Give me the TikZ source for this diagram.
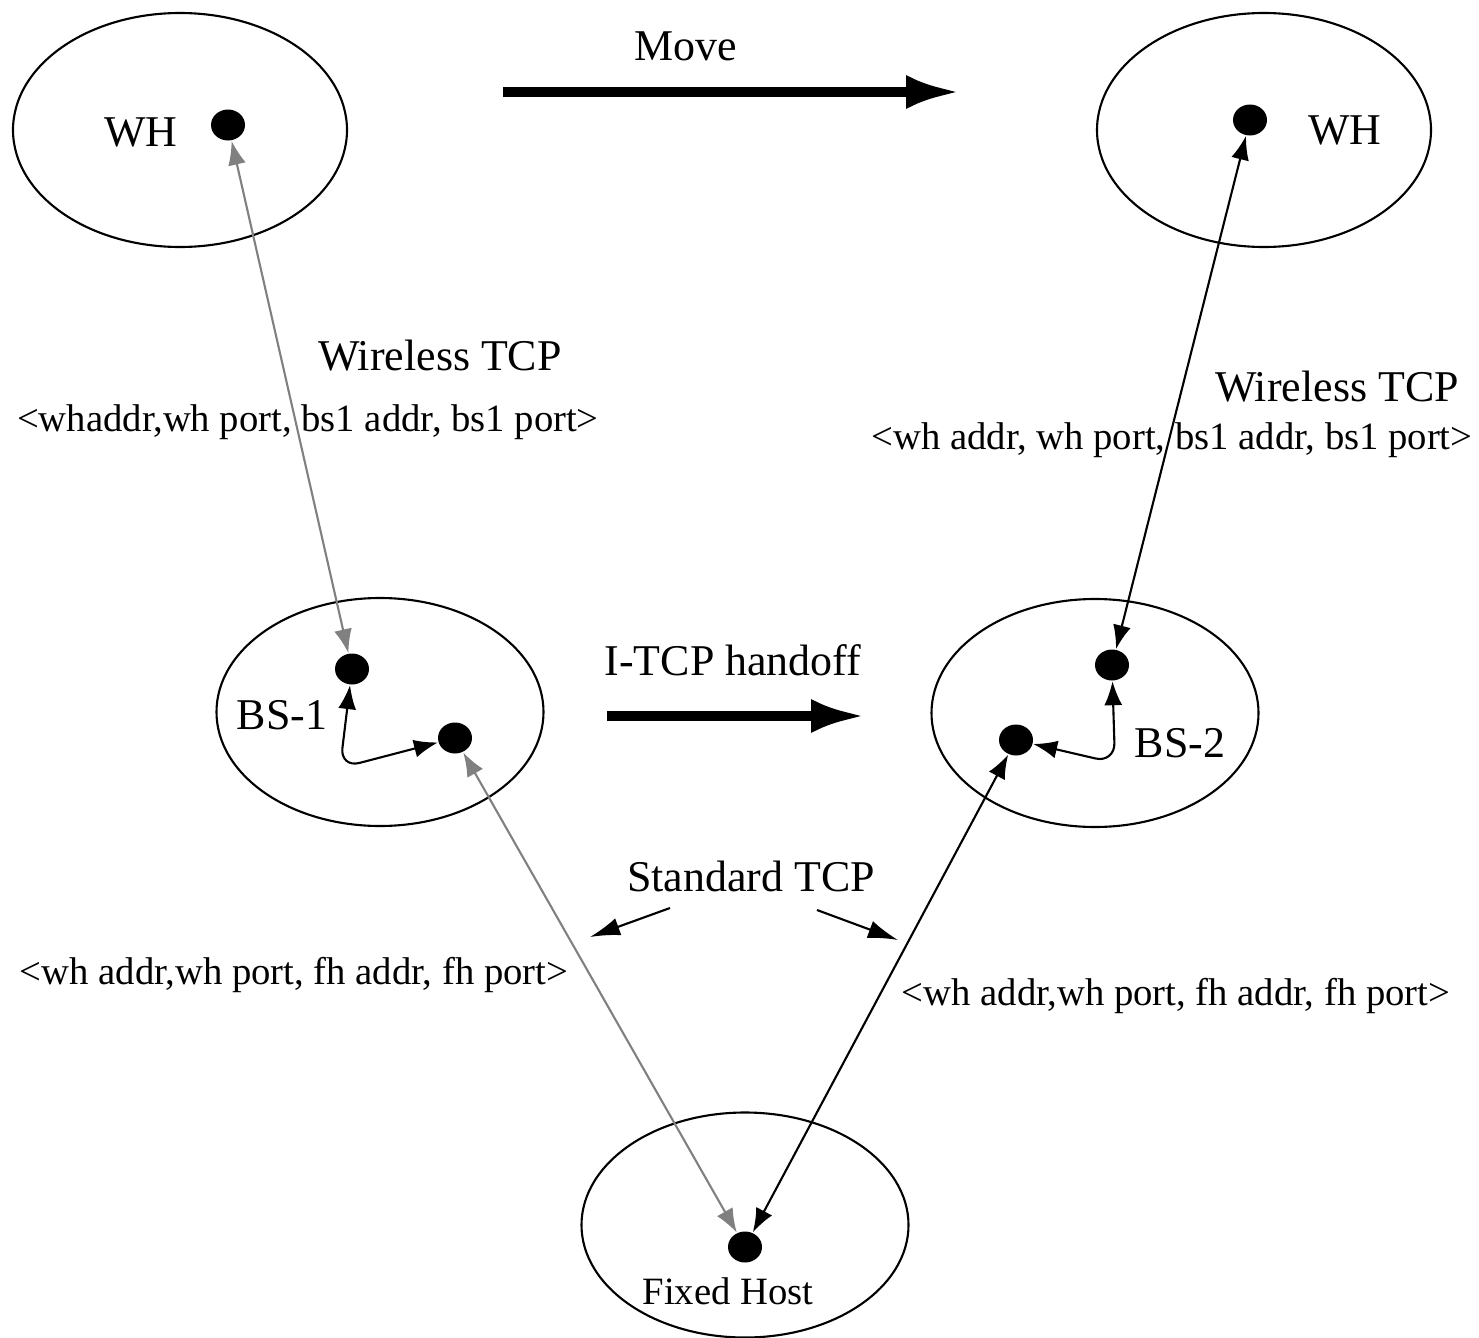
\documentclass[tikz,border=0pt]{standalone}
\usepackage{fontspec}
\setmainfont{Liberation Serif}
\usetikzlibrary{arrows.meta,shapes.geometric}

\begin{document}
\begin{tikzpicture}[x=0.1mm,y=-0.1mm,
        cell/.style={draw,ellipse,line width=0.6pt,inner sep=0pt,minimum width=32.7mm,minimum height=22.8mm},
        host/.style={ellipse,fill,inner sep=0pt,minimum width=3.4mm,minimum height=3.1mm},
        big/.style={font=\fontsize{12.5}{14}\selectfont},
        small/.style={font=\fontsize{11}{13}\selectfont},
        link/.style={line width=0.6pt,{Latex[length=2.4mm,width=1.8mm]}-{Latex[length=2.4mm,width=1.8mm]}},
        hint/.style={line width=0.6pt,-{Latex[length=3mm,width=1.8mm]}},
        fat/.style={line width=2.8pt,-{Latex[length=5.4mm,width=3.4mm]}}]
    \useasboundingbox (0,0) rectangle (1479,1338);
    % cells
    \node [cell,minimum width=33.4mm,minimum height=23.4mm] (whA) at (180,130) {};
    \node [cell,minimum width=33.4mm,minimum height=23.4mm] (whB) at (1264,130) {};
    \node [cell] (bs1) at (380,712) {};
    \node [cell] (bs2) at (1095,713) {};
    \node [cell,minimum height=22.5mm] (fh) at (745,1225) {};
    % hosts
    \node [host] (whAdot) at (228,125) {};
    \node [host] (whBdot) at (1250,120) {};
    \node [host] (bs1a) at (352,669) {};
    \node [host] (bs1b) at (455,738) {};
    \node [host] (bs2a) at (1112,665) {};
    \node [host] (bs2b) at (1016,740) {};
    \node [host] (fhdot) at (745,1247) {};
    % labels
    \node [big] (whAtxt) at (141,132) {WH};
    \node [big] (whBtxt) at (1345,130) {WH};
    \node [big] (bs1txt) at (282,715) {BS-1};
    \node [big] (bs2txt) at (1180,743) {BS-2};
    \node [small] (fhtxt) at (728,1291) {Fixed Host};
    \node [big] (move) at (686,46) {Move};
    \node [big] (handoff) at (733,660) {I-TCP handoff};
    \node [big] (wtcpA) at (440,356) {Wireless TCP};
    \node [small] (addrA) at (308,422) {<whaddr,wh port, bs1 addr, bs1 port>};
    \node [big] (wtcpB) at (1337,387) {Wireless TCP};
    \node [small] (addrB) at (1172,440) {<wh addr, wh port, bs1 addr, bs1 port>};
    \node [big] (stcp) at (751,876) {Standard TCP};
    \node [small] (addrC) at (294,975) {<wh addr,wh port, fh addr, fh port>};
    \node [small] (addrD) at (1176,996) {<wh addr,wh port, fh addr, fh port>};
    % free ends
    \coordinate (moveS) at (503,92);
    \coordinate (moveE) at (960,92);
    \coordinate (hoS) at (607,716);
    \coordinate (hoE) at (865,716);
    \coordinate (stdA) at (670,908);
    \coordinate (stdAend) at (590,937);
    \coordinate (stdB) at (817,910);
    \coordinate (stdBend) at (898,940);
    % arrows
    \draw [fat] (moveS) -- (moveE);
    \draw [fat] (hoS) -- (hoE);
    \draw [hint] (stdA) -- (stdAend);
    \draw [hint] (stdB) -- (stdBend);
    \draw [link,gray] (whAdot) -- (bs1a);
    \draw [link,gray] (bs1b) -- (fhdot);
    \draw [link] (whBdot) -- (bs2a);
    \draw [link] (bs2b) -- (fhdot);
    \draw [link,rounded corners=2mm] (bs1a) -- (340,768) -- (bs1b);
    \draw [link,rounded corners=2mm] (bs2a) -- (1115,763) -- (bs2b);
\end{tikzpicture}
\end{document}
